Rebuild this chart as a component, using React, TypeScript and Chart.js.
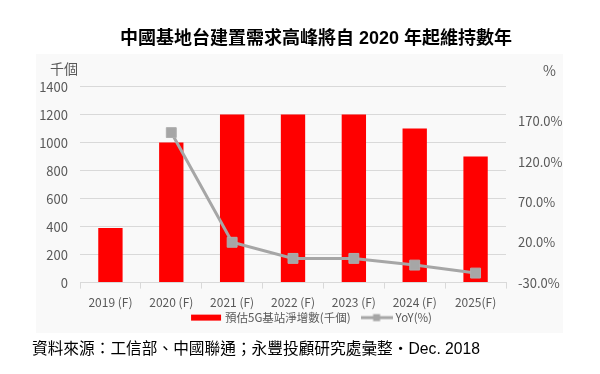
import React, { useEffect, useRef } from "react";
import { Chart, registerables } from "chart.js";

Chart.register(...registerables);

const categories = ["2019 (F)", "2020 (F)", "2021 (F)", "2022 (F)", "2023 (F)", "2024 (F)", "2025(F)"];
const stationAdds = [390, 1000, 1200, 1200, 1200, 1100, 900];
const yoyValues = [null, 156, 20, 0, 0, -8.3, -18.2];
const rightTicks = [-30, 20, 70, 120, 170];
const leftTicks = [0, 200, 400, 600, 800, 1000, 1200, 1400];

const titleText = "中國基地台建置需求高峰將自 2020 年起維持數年";
const barLabel = "預估5G基站淨增數(千個)";
const lineLabel = "YoY(%)";
const leftUnit = "千個";
const rightUnit = "%";
const sourceText = "資料來源：工信部、中國聯通；永豐投顧研究處彙整‧Dec. 2018";

const RED = "#ff0000";
const GREY = "#a6a6a6";
const TEXT = "#595959";
const CJK = '"Noto Sans CJK TC", "Noto Sans", sans-serif';
const SANS = '"Liberation Sans", "Noto Sans CJK TC", sans-serif';

function makeSwatch(kind: "bar" | "line"): HTMLCanvasElement {
  const c = document.createElement("canvas");
  c.width = 32;
  c.height = 10;
  const ctx = c.getContext("2d")!;
  if (kind === "bar") {
    ctx.fillStyle = RED;
    ctx.fillRect(1, 2, 30, 6);
  } else {
    ctx.strokeStyle = GREY;
    ctx.lineWidth = 3;
    ctx.beginPath();
    ctx.moveTo(0, 5);
    ctx.lineTo(32, 5);
    ctx.stroke();
    ctx.fillStyle = GREY;
    ctx.fillRect(12.5, 1.5, 7, 7);
  }
  return c;
}

export default function App() {
  const ref = useRef<HTMLCanvasElement>(null);

  useEffect(() => {
    if (!ref.current) return;
    const swatches = [makeSwatch("bar"), makeSwatch("line")];

    const decor = {
      id: "decor",
      beforeDraw(chart: any) {
        const ctx = chart.ctx;
        ctx.save();
        ctx.fillStyle = "#f9f9f9";
        ctx.fillRect(36, 54, 527, 279);
        ctx.restore();
      },
      afterDraw(chart: any) {
        const ctx = chart.ctx;
        const a = chart.chartArea;
        ctx.save();
        // unit labels
        ctx.fillStyle = TEXT;
        ctx.font = `14px ${CJK}`;
        ctx.textBaseline = "middle";
        ctx.textAlign = "right";
        ctx.fillText(leftUnit, a.left - 2, a.top - 18);
        ctx.textAlign = "left";
        ctx.fillText(rightUnit, a.right + 37, a.top - 16);

        // legend
        ctx.font = `11.5px ${CJK}`;
        const swW = 32;
        const gap = 3;
        const itemGap = 10;
        const items = chart.data.datasets.map((ds: any, i: number) => ({
          text: ds.label as string,
          img: swatches[i],
          w: swW + gap + ctx.measureText(ds.label).width,
        }));
        const total = items.reduce((s: number, it: any) => s + it.w, 0) + itemGap * (items.length - 1);
        let x = (chart.width + 22) / 2 - total / 2;
        const y = a.bottom + 35;
        ctx.textAlign = "left";
        ctx.textBaseline = "middle";
        for (const it of items) {
          ctx.drawImage(it.img, x, y - 5);
          ctx.fillStyle = TEXT;
          ctx.fillText(it.text, x + swW + gap, y);
          x += it.w + itemGap;
        }
        ctx.restore();
      },
    };

    const chart = new Chart(ref.current, {
      type: "bar",
      data: {
        labels: categories,
        datasets: [
          {
            type: "bar",
            label: barLabel,
            data: stationAdds,
            backgroundColor: RED,
            borderWidth: 0,
            barPercentage: 0.4,
            categoryPercentage: 1,
            yAxisID: "y",
            order: 2,
          },
          {
            type: "line",
            label: lineLabel,
            data: yoyValues as any,
            borderColor: GREY,
            backgroundColor: GREY,
            borderWidth: 3,
            pointStyle: "rect",
            pointRadius: 7,
            pointBorderWidth: 1,
            pointBorderColor: "#aeaeae",
            pointBackgroundColor: GREY,
            spanGaps: false,
            yAxisID: "y1",
            order: 1,
          } as any,
        ],
      },
      options: {
        responsive: false,
        animation: false,
        layout: { padding: { left: 32, right: 0, top: 0, bottom: 57 } },
        scales: {
          x: {
            offset: true,
            grid: {
              offset: true,
              drawOnChartArea: false,
              drawTicks: true,
              tickLength: 6,
              color: "#d9d9d9",
            },
            border: { display: true, color: "#d9d9d9" },
            ticks: {
              color: TEXT,
              font: { family: CJK, size: 12 },
              padding: 7,
              maxRotation: 0,
              autoSkip: false,
            },
          },
          y: {
            position: "left",
            min: 0,
            max: 1400,
            grid: { color: "#d9d9d9", drawTicks: false },
            border: { display: false },
            ticks: {
              color: TEXT,
              font: { family: CJK, size: 13 },
              padding: 12,
              callback: (v: any) => String(v),
            },
            afterBuildTicks(scale: any) {
              scale.ticks = leftTicks.map((v) => ({ value: v }));
            },
            afterFit(scale: any) {
              scale.width = 48;
            },
          },
          y1: {
            position: "right",
            min: -30,
            max: 213,
            grid: { display: false, drawTicks: false },
            border: { display: false },
            ticks: {
              color: TEXT,
              font: { family: CJK, size: 13 },
              padding: 12,
              callback: (v: any) => `${Number(v).toFixed(1)}%`,
            },
            afterBuildTicks(scale: any) {
              scale.ticks = rightTicks.map((v) => ({ value: v }));
            },
            afterFit(scale: any) {
              scale.width = 94;
            },
          },
        },
        plugins: {
          title: {
            display: true,
            text: titleText,
            color: "#000",
            font: { family: SANS, size: 18, weight: "bold" },
            padding: { top: 28, bottom: 37 },
          },
          legend: { display: false },
          tooltip: { enabled: false },
        },
      },
      plugins: [decor],
    });
    return () => chart.destroy();
  }, []);

  return (
    <div style={{ position: "absolute", left: 0, top: 0, width: 600, height: 374, background: "#fff" }}>
      <canvas ref={ref} width={600} height={374} style={{ display: "block" }} />
      <div
        style={{
          position: "absolute",
          left: 32,
          top: 339,
          fontFamily: SANS,
          fontSize: 15.7,
          lineHeight: "20px",
          color: "#000",
          whiteSpace: "nowrap",
        }}
      >
        {sourceText}
      </div>
    </div>
  );
}
